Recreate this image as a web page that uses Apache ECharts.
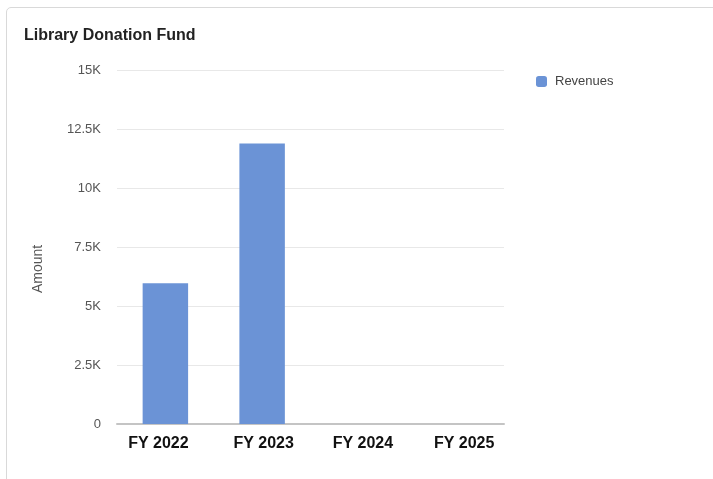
<!DOCTYPE html>
<html>
<head>
<meta charset="utf-8">
<script src="https://cdn.jsdelivr.net/npm/echarts@6/dist/echarts.min.js"></script>
<style>
  html, body { margin: 0; padding: 0; background: #fff; }
  #card {
    position: absolute; left: 6px; top: 7px; width: 740px; height: 500px;
    border: 1px solid #d9d9d9; border-radius: 5px; box-sizing: border-box;
  }
  #chart { position: absolute; left: 0; top: 0; width: 713px; height: 479px; }
</style>
</head>
<body>
<div id="card"></div>
<div id="chart"></div>
<script>
// Fiscal years and their revenue totals
const categories = ['FY 2022', 'FY 2023', 'FY 2024', 'FY 2025'];
const revenues = [5960, 11890, 0, 0];
const yTicks = [0, 2500, 5000, 7500, 10000, 12500, 15000];
const yTickLabels = ['0', '2.5K', '5K', '7.5K', '10K', '12.5K', '15K'];

// Horizontal nudge (px) applied to each category label
const labelNudge = [-7, 1.5, 4, 8.5];

const font = '"Liberation Sans", Arial, sans-serif';
const chart = echarts.init(document.getElementById('chart'));

const xData = categories.map((c, i) => {
  const n = labelNudge[i] * 2;
  return {
    value: c,
    textStyle: { padding: n >= 0 ? [0, 0, 0, n] : [0, -n, 0, 0] }
  };
});

chart.setOption({
  animation: false,
  textStyle: { fontFamily: font },
  title: {
    text: 'Library Donation Fund',
    left: 19, top: 23,
    textStyle: { fontSize: 16, fontWeight: 'bold', color: '#222', fontFamily: font }
  },
  legend: {
    data: ['Revenues'],
    left: 531, top: 70,
    itemWidth: 11, itemHeight: 11,
    icon: 'roundRect',
    textStyle: { fontSize: 13, color: '#444', fontFamily: font, padding: [0, 0, 0, 3] }
  },
  grid: { left: 117, right: 209, top: 70, bottom: 55 },
  graphic: [{
    type: 'text',
    x: 38, y: 269,
    rotation: Math.PI / 2,
    style: {
      text: 'Amount', fill: '#555', fontSize: 14, fontFamily: font,
      align: 'center', verticalAlign: 'middle'
    }
  }],
  xAxis: {
    type: 'category',
    data: xData,
    axisLine: { lineStyle: { color: '#c4c4c4', width: 2 } },
    axisTick: { show: false },
    axisLabel: { fontSize: 16, fontWeight: 'bold', color: '#111', margin: 12, fontFamily: font }
  },
  yAxis: {
    type: 'value',
    min: yTicks[0], max: yTicks[yTicks.length - 1], interval: 2500,
    axisLine: { show: false },
    axisTick: { show: false },
    splitLine: { lineStyle: { color: '#e8e8e8', width: 1 } },
    axisLabel: {
      fontSize: 13, color: '#555', margin: 16, fontFamily: font,
      formatter: v => yTickLabels[yTicks.indexOf(v)] ?? ''
    }
  },
  series: [{
    name: 'Revenues',
    type: 'bar',
    data: revenues,
    barWidth: '47%',
    itemStyle: { color: '#6b93d6' }
  }]
});
</script>
</body>
</html>
